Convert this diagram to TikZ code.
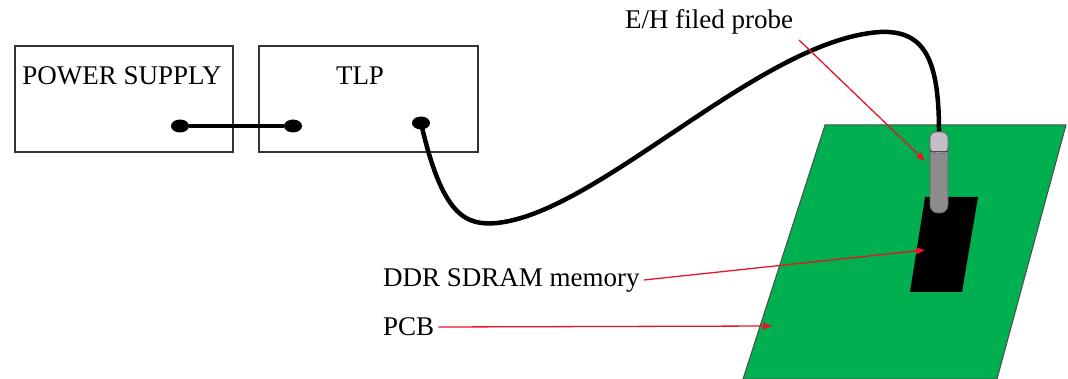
\documentclass[tikz,border=0pt]{standalone}
\usepackage{fontspec}
\setmainfont{Liberation Serif}
\usetikzlibrary{positioning}
\usetikzlibrary{shapes.geometric, arrows.meta}

\definecolor{pcbgreen}{RGB}{0,176,80}
\definecolor{leadred}{RGB}{232,20,40}
\definecolor{probecap}{RGB}{196,188,198}
\definecolor{probebody}{RGB}{140,140,140}

\tikzset{
  instrument/.style={draw=black!80, line width=1.2pt, rectangle},
  caption/.style={font=\fontsize{27}{31}\selectfont, inner sep=0pt},
  jack/.style={ellipse, fill=black, minimum width=18pt, minimum height=13pt, inner sep=0pt},
  cable/.style={line width=4.5pt, black},
  lead/.style={leadred, line width=1.3pt, -{Triangle[length=9pt,width=7pt]}}
}

\begin{document}
\begin{tikzpicture}[x=1pt, y=-1pt]
\useasboundingbox (0,0) rectangle (1068,379);

 % the board and the memory chip
 \filldraw[fill=pcbgreen, draw=black!70, line width=1pt]
   (825,125) -- (1066,125) -- (997,379) -- (743,379) -- cycle;
 \fill[black] (925,197) -- (978,197) -- (962,292) -- (910,292) -- cycle;

 % instruments
 \draw[instrument] (15,46) rectangle (233,152);
 \draw[instrument] (259,46) rectangle (478,152);
 \node[caption] (psu) at (122,76) {POWER SUPPLY};
 \node[caption] (tlp) at (360,76) {TLP};

 \node[jack] (psuout) at (180,126) {};
 \node[jack] (tlpin) at (293,126) {};
 \node[jack] (tlpout) at (421,123) {};
 \draw[cable] (psuout) -- (tlpin);

 % cable out to the probe
 \coordinate (probetop) at (939,132);
 \draw[cable] (tlpout.center) .. controls (442,215) and (465,226) .. (497,223)
   .. controls (600,212) and (760,40) .. (880,32)
   .. controls (925,30) and (939,60) .. (probetop);

 % probe
 \filldraw[fill=probebody, draw=black!60, line width=0.8pt, rounded corners=8pt]
   (930,132) rectangle (948,213);
 \filldraw[fill=probecap, draw=black!60, line width=0.8pt, rounded corners=6pt]
   (930,132) -- (948,132) -- (948,153) -- (930,153) -- cycle;
 \draw[black!70, line width=0.8pt] (930,151) -- (948,151);

 % labels
 \node[caption, anchor=south] (probelbl) at (709,34) {E/H filed probe};
 \node[caption, anchor=west] (ddrlbl) at (383,280) {DDR SDRAM memory};
 \node[caption, anchor=west] (pcblbl) at (383,327) {PCB};

 \coordinate (probetip) at (925,161);
 \coordinate (ddrtip) at (925,250);
 \coordinate (pcbtip) at (772,326);

 \draw[lead] (799,40) -- (probetip);
 \draw[lead] ([xshift=4pt]ddrlbl.east) -- (ddrtip);
 \draw[lead] ([xshift=4pt]pcblbl.east) -- (pcbtip);

\end{tikzpicture}
\end{document}
